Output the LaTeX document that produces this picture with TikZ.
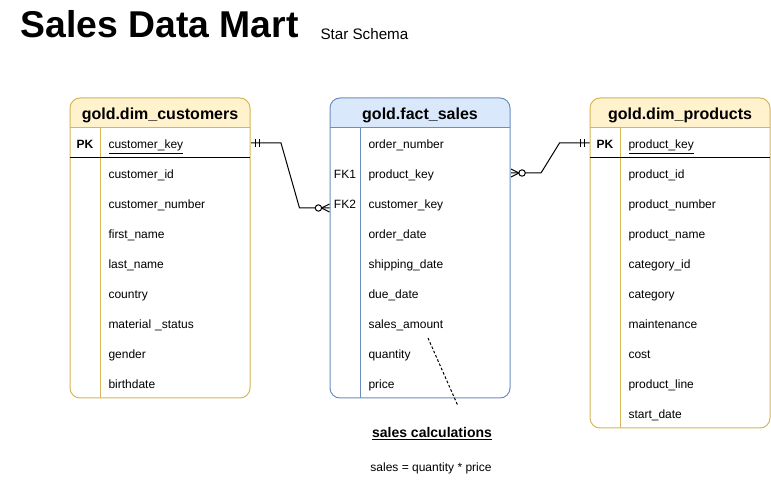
\documentclass[tikz,border=0pt]{standalone}
\usepackage{fontspec}
\setmainfont{Liberation Sans}
\definecolor{dimfill}{HTML}{FFF2CC}
\definecolor{dimline}{HTML}{D6B656}
\definecolor{factfill}{HTML}{DAE8FC}
\definecolor{factline}{HTML}{6C8EBF}
\tikzset{
    field/.style={anchor=west,text height=11pt,text depth=2pt,text width=100.5pt,inner xsep=6pt,inner ysep=0pt,align=left,font=\fontsize{9}{11}\selectfont},
    keycol/.style={minimum width=22.5pt,text height=11pt,text depth=2pt,inner sep=0pt,font=\fontsize{9}{11}\selectfont},
    head/.style={text height=12.5pt,text depth=2.5pt,font=\fontsize{12}{14}\selectfont\bfseries},
}
\begin{document}
\begin{tikzpicture}[x=0.75pt,y=-0.75pt,line width=0.75pt]
        \useasboundingbox (0,0) rectangle (771,491);
        \node[anchor=base west,inner sep=0pt,font=\fontsize{28}{32}\selectfont\bfseries] (title) at (20,37.5) {Sales Data Mart};
        \node[anchor=base west,inner sep=0pt,font=\fontsize{11.4}{13}\selectfont] (subtitle) at (320,40) {Star Schema};

        % tables: left edge / bottom / colour
        \foreach \x/\b/\col in {70/398/dim, 330/398/fact, 590/428/dim} {
            \fill[\col fill,rounded corners=7.5pt] (\x,128) -- (\x,98) -- (\x+180,98) [sharp corners] -- (\x+180,128) -- cycle;
            \draw[\col line] (\x,128) -- (\x+180,128);
            \draw[\col line] (\x+30,128) -- (\x+30,\b);
            \draw[\col line,rounded corners=7.5pt] (\x,98) rectangle (\x+180,\b);
        }
        \draw (70,158) -- (250,158);
        \draw (590,158) -- (770,158);

        \node[head] (hcust) at (160,113) {gold.dim\_customers};
        \node[head] (hfact) at (420,113) {gold.fact\_sales};
        \node[head] (hprod) at (680,113) {gold.dim\_products};

        \begin{scope}
            \node[keycol] (ckey) at (85,143) {\bfseries PK};
            \node[keycol] (fk1)  at (345,173) {FK1};
            \node[keycol] (fk2)  at (345,203) {FK2};
            \node[keycol] (pkey) at (605,143) {\bfseries PK};

            \foreach \f [count=\i] in {\underline{customer\_key}, customer\_id, customer\_number, first\_name, last\_name, country, material \_status, gender, birthdate}
                {\node[field] (cust-\i) at (100,{113+30*\i}) {\f};}
            \foreach \f [count=\i] in {order\_number, product\_key, customer\_key, order\_date, shipping\_date, due\_date, sales\_amount, quantity, price}
                {\node[field] (fact-\i) at (360,{113+30*\i}) {\f};}
            \foreach \f [count=\i] in {\underline{product\_key}, product\_id, product\_number, product\_name, category\_id, category, maintenance, cost, product\_line, start\_date}
                {\node[field] (prod-\i) at (620,{113+30*\i}) {\f};}
        \end{scope}

        % relations
        \coordinate (cf1) at ([yshift=-3.75pt]fk2.west);
        \draw (cust-1.east) -- ++(30,0) -- ([xshift=-22.5pt]cf1) -- (cf1);
        \draw ([xshift=3.4pt,yshift=3pt]cust-1.east) -- ++(0,8);
        \draw ([xshift=6.4pt,yshift=3pt]cust-1.east) -- ++(0,8);
        \draw ([yshift=3pt]cf1) -- ++(-8,4) -- ++(8,4);
        \draw[fill=white] ([xshift=-8.3pt]cf1) circle[radius=2.4pt];

        \draw (fact-2.east) -- ++(30,0) -- ([xshift=-22.5pt]pkey.west) -- (pkey.west);
        \draw ([xshift=-3.4pt,yshift=3pt]pkey.west) -- ++(0,8);
        \draw ([xshift=-6.4pt,yshift=3pt]pkey.west) -- ++(0,8);
        \draw ([yshift=3pt]fact-2.east) -- ++(8,4) -- ++(-8,4);
        \draw[fill=white] ([xshift=8.3pt]fact-2.east) circle[radius=2.4pt];

        % note
        \coordinate (n1) at (428,338);
        \coordinate (n2) at (458,406);
        \draw[dash pattern=on 2pt off 1.5pt] (n1) -- (n2);
        \node[text height=9pt,text depth=2pt,font=\fontsize{10.5}{12}\selectfont\bfseries] (calc) at (432,433) {\underline{sales calculations}};
        \node[text height=8.5pt,text depth=2pt,font=\fontsize{9}{11}\selectfont] (formula) at (431,467) {sales = quantity * price};
\end{tikzpicture}
\end{document}
